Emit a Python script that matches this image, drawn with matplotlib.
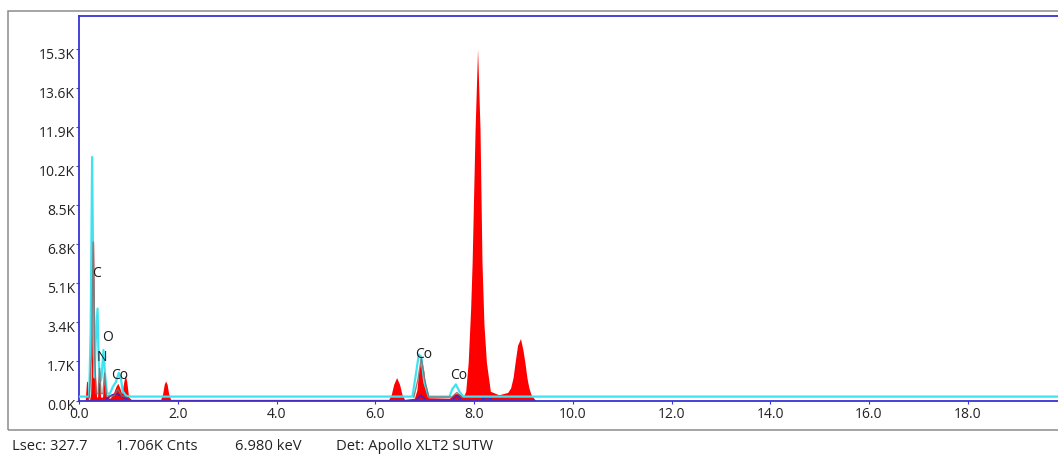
import matplotlib
matplotlib.use("Agg")
import matplotlib.pyplot as plt
from matplotlib.patches import Rectangle
from matplotlib.transforms import ScaledTranslation

plt.rcParams['font.family'] = ['Open Sans', 'DejaVu Sans']

# ---------------- data (energy in keV, counts in thousands) ----------------
red_keV = [0.00, 0.12, 0.145, 0.165, 0.185, 0.21, 0.23, 0.25, 0.27, 0.29, 0.31, 0.33, 0.35,
           0.37, 0.40, 0.43, 0.47, 0.51, 0.55, 0.62, 0.68, 0.74, 0.78, 0.82, 0.86, 0.90,
           0.93, 0.96, 1.00, 1.05, 1.65, 1.69, 1.72, 1.75, 1.78, 1.81, 1.85,
           6.27, 6.32, 6.37, 6.43, 6.49, 6.54, 6.59,
           6.79, 6.84, 6.88, 6.93, 6.98, 7.02, 7.08,
           7.50, 7.60, 7.68, 7.78, 7.80, 7.83, 7.88, 7.93, 7.96, 8.02, 8.07, 8.12, 8.16,
           8.20, 8.25, 8.33, 8.50, 8.68, 8.74, 8.79, 8.83, 8.88, 8.94, 8.99, 9.03, 9.07,
           9.11, 9.16, 9.25, 20.0]
red_kcnts = [0.00, 0.00, 0.80, 0.85, 0.05, 0.05, 0.30, 2.00, 5.00, 7.00, 3.80, 1.00, 0.15,
             0.15, 1.55, 0.15, 0.15, 1.05, 0.15, 0.10, 0.25, 0.60, 0.75, 0.55, 0.30, 0.80,
             1.10, 0.85, 0.15, 0.05, 0.05, 0.30, 0.70, 0.85, 0.70, 0.30, 0.05,
             0.05, 0.25, 0.70, 1.00, 0.70, 0.25, 0.05,
             0.10, 0.45, 1.30, 1.78, 1.30, 0.45, 0.12,
             0.10, 0.30, 0.30, 0.20, 0.25, 0.40, 1.65, 4.00, 6.00, 11.80, 15.30, 11.80, 6.00,
             3.30, 1.65, 0.40, 0.25, 0.35, 0.55, 1.00, 1.65, 2.40, 2.70, 2.20, 1.65, 1.00,
             0.55, 0.22, 0.00, 0.00]

cyan_keV = [0.00, 0.20, 0.23, 0.26, 0.29, 0.31, 0.33, 0.37, 0.39, 0.42, 0.45, 0.49, 0.52,
            0.56, 0.62, 0.68, 0.74, 0.80, 0.84, 0.88, 0.95, 1.05,
            6.75, 6.81, 6.88, 6.93, 6.99, 7.08, 7.50, 7.56, 7.63, 7.70, 7.78, 20.0]
cyan_kcnts = [0.17, 0.17, 3.00, 10.60, 3.50, 1.00, 2.50, 4.00, 2.00, 0.80, 1.00, 2.20, 1.20,
              0.30, 0.30, 0.60, 0.80, 1.20, 1.00, 0.40, 0.20, 0.17,
              0.17, 1.00, 2.00, 1.90, 0.80, 0.17, 0.17, 0.50, 0.70, 0.40, 0.17, 0.17]

grey_keV = [0.20, 0.25, 0.28, 0.31, 0.34, 0.38, 0.41, 0.44, 0.48, 0.51, 0.55, 0.70, 0.78,
            0.86, 0.95]
grey_kcnts = [0.10, 2.00, 6.90, 2.00, 0.30, 0.30, 1.40, 0.30, 0.30, 1.20, 0.20, 0.20, 0.50,
              0.20, 0.15]
grey2_keV = [6.78, 6.86, 6.93, 7.00, 7.08, 7.55, 7.65, 7.75]
grey2_kcnts = [0.15, 0.90, 1.85, 0.90, 0.15, 0.15, 0.35, 0.15]

# purple fitted-background bumps (separate segments)
purple_segments_keV = [[0.55, 0.65, 0.75, 0.85, 0.95],
                       [6.85, 6.92, 7.00],
                       [7.58, 7.65, 7.72],
                       [8.18, 8.26, 8.34]]
purple_segments_kcnts = [[0.08, 0.22, 0.30, 0.20, 0.08],
                         [0.08, 0.22, 0.08],
                         [0.08, 0.20, 0.08],
                         [0.08, 0.15, 0.08]]

peak_labels = ["C", "O", "N", "Co", "Co", "Co"]
peak_label_keV = [0.34, 0.58, 0.46, 0.82, 6.98, 7.69]
peak_label_kcnts = [5.54, 2.76, 1.89, 1.11, 2.02, 1.11]

y_ticks = [0.0, 1.7, 3.4, 5.1, 6.8, 8.5, 10.2, 11.9, 13.6, 15.3]
y_ticklabels = ["0.0K", "1.7K", "3.4K", "5.1K", "6.8K", "8.5K", "10.2K", "11.9K", "13.6K", "15.3K"]
x_ticks = [0, 2, 4, 6, 8, 10, 12, 14, 16, 18]
x_ticklabels = ["0.0", "2.0", "4.0", "6.0", "8.0", "10.0", "12.0", "14.0", "16.0", "18.0"]

footer = [("Lsec: 327.7", 12), ("1.706K Cnts", 116), ("6.980 keV", 235),
          ("Det: Apollo XLT2 SUTW", 336)]

# ---------------- figure ----------------
W, H = 1058, 455
fig = plt.figure(figsize=(W / 100, H / 100), dpi=100)

# outer grey frame
fig.add_artist(Rectangle((8 / W, (H - 430) / H), (1080 - 8) / W, (430 - 11) / H,
                         transform=fig.transFigure, fill=False, edgecolor='#8c8c8c',
                         linewidth=1.1))

ax = fig.add_axes([79.3 / W, (H - 400.5) / H, 20 * 49.35 / W, (400.5 - 15.5) / H])
ax.set_xlim(0, 20)
ax.set_ylim(0, 16.76)

blue = '#3434d6'
for s in ['left', 'top', 'bottom']:
    ax.spines[s].set_color(blue)
    ax.spines[s].set_linewidth(1.3)
ax.spines['right'].set_visible(False)

ax.fill_between(red_keV, 0, red_kcnts, color='#ff0000', linewidth=0, zorder=2)
for xs, ys in zip(purple_segments_keV, purple_segments_kcnts):
    ax.plot(xs, ys, color='#5a1fa8', linewidth=1.4, zorder=3)
ax.plot(cyan_keV, cyan_kcnts, color='#3fe3f0', linewidth=1.6, zorder=4)
ax.plot(grey_keV, grey_kcnts, color='#7a6f70', linewidth=1.0, alpha=0.85, zorder=5)
ax.plot(grey2_keV, grey2_kcnts, color='#7a6f70', linewidth=1.0, alpha=0.85, zorder=5)

for lab, xv, yv in zip(peak_labels, peak_label_keV, peak_label_kcnts):
    ax.text(xv, yv, lab, ha='center', va='center', fontsize=10, color='#1a1a1a', zorder=6)

ax.set_yticks(y_ticks)
ax.set_yticklabels(y_ticklabels)
ax.set_xticks(x_ticks)
ax.set_xticklabels(x_ticklabels)
ax.tick_params(axis='y', direction='out', length=2, width=0.8, color='#555555', pad=1,
               labelsize=10, labelcolor='#222222')
ax.tick_params(axis='x', direction='out', length=2.5, width=0.8, color=blue, pad=2.5,
               labelsize=10, labelcolor='#222222')
off = ScaledTranslation(0, -4 / 100, fig.dpi_scale_trans)
for lbl in ax.get_yticklabels():
    lbl.set_transform(lbl.get_transform() + off)

for txt, xp in footer:
    fig.text(xp / W, (H - 447) / H, txt, ha='left', va='center', fontsize=10.6, color='#222222')

fig.savefig("out.png", dpi=100)
